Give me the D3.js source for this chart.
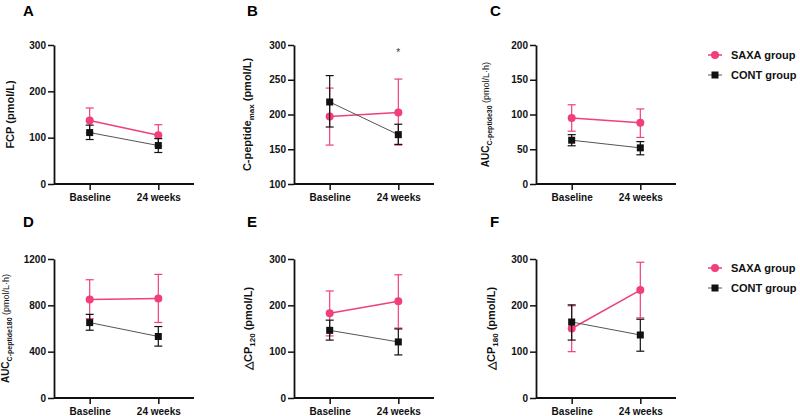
<!DOCTYPE html>
<html>
<head>
<meta charset="utf-8">
<script src="https://cdn.jsdelivr.net/npm/d3@7/dist/d3.min.js"></script>
<style>
  body { margin: 0; background: #fff; }
  svg { font-family: "Liberation Sans", Arial, Helvetica, sans-serif; }
</style>
</head>
<body>
<svg id="chart" width="800" height="416"></svg>
<script>
// Data
const timepoints = ['Baseline', '24 weeks'];
const panelIds = ['A', 'B', 'C', 'D', 'E', 'F'];
const groups = ['SAXA group', 'CONT group'];

const yDomains = [[0, 300], [100, 300], [0, 200], [0, 1200], [0, 300], [0, 300]];
const yTicks = [
  [0, 100, 200, 300],
  [100, 150, 200, 250, 300],
  [0, 50, 100, 150, 200],
  [0, 400, 800, 1200],
  [0, 100, 200, 300],
  [0, 100, 200, 300]
];

const saxaMean = [[137, 105], [197, 203], [95, 88], [850, 858], [183, 209], [150, 233]];
const saxaHigh = [[164, 128], [238, 251], [114, 108], [1021, 1067], [231, 266], [199, 293]];
const saxaLow = [[110, 82], [156, 156], [76, 67], [685, 652], [134, 151], [100, 173]];

const contMean = [[111, 83], [218, 171], [63, 52], [651, 531], [146, 121], [164, 136]];
const contHigh = [[127, 98], [256, 186], [71, 61], [722, 617], [168, 149], [201, 170]];
const contLow = [[96, 68], [182, 157], [55, 42], [585, 448], [125, 93], [125, 101]];

// significance marks: [panel index, timepoint index, y value]
const sigMarks = [[1, 1, 292]];

// axis titles: [main, subscript, rest]
const yTitles = [
  ['FCP (pmol/L)', '', ''],
  ['C-peptide', 'max', ' (pmol/L)'],
  ['AUC', 'C-peptide30', ' (pmol/L\u00b7h)'],
  ['AUC', 'C-peptide180', ' (pmol/L\u00b7h)'],
  ['\u25b3CP', '120', ' (pmol/L)'],
  ['\u25b3CP', '180', ' (pmol/L)']
];

// Layout
const pink = '#f03f7c';
const dark = '#111';
const colX = [54, 294, 536];
const rowY = [45, 259];
const plotW = 140, plotH = 139;
const letterX = [23, 247, 490];
const letterY = [16, 227];
const titleX = [14, 251, 489, 9, 252, 495];
const smallTitle = [false, false, true, true, false, false];

const svg = d3.select('svg#chart');

panelIds.forEach((id, i) => {
  const col = i % 3, row = Math.floor(i / 3);
  const x0 = colX[col], y0 = rowY[row];

  const x = d3.scalePoint().domain(timepoints).range([x0, x0 + plotW]).padding(0.52);
  const y = d3.scaleLinear().domain(yDomains[i]).range([y0 + plotH, y0]);

  const g = svg.append('g');

  // panel letter
  svg.append('text')
    .attr('x', letterX[col]).attr('y', letterY[row])
    .attr('font-size', 15).attr('font-weight', 'bold')
    .text(id);

  // y axis
  const ya = g.append('g')
    .attr('transform', `translate(${x0},0)`)
    .call(d3.axisLeft(y).tickValues(yTicks[i]).tickFormat(d3.format('d'))
      .tickSize(6).tickSizeOuter(0).tickPadding(2));
  // x axis
  const xa = g.append('g')
    .attr('transform', `translate(0,${y0 + plotH})`)
    .call(d3.axisBottom(x).tickSize(6).tickSizeOuter(0).tickPadding(4));
  xa.select('.domain').attr('d', `M${x0},0H${x0 + plotW}`);

  [ya, xa].forEach(a => {
    a.select('.domain').attr('stroke', dark).attr('stroke-width', 1.8);
    a.selectAll('.tick line').attr('stroke', dark).attr('stroke-width', 1.5);
    a.selectAll('.tick text').attr('fill', dark).attr('font-size', 10)
      .attr('font-weight', 'bold').attr('font-family', '"Liberation Sans", Arial, sans-serif');
  });

  // y title
  const t = yTitles[i];
  const small = smallTitle[i];
  const title = svg.append('text')
    .attr('transform', `translate(${titleX[i]},${y0 + plotH / 2}) rotate(-90)`)
    .attr('text-anchor', 'middle')
    .attr('font-weight', 'bold')
    .attr('font-size', small ? 10 : 11)
    .attr('fill', dark);
  title.append('tspan').text(t[0]);
  if (t[1]) {
    title.append('tspan').attr('font-size', small ? 7 : 8).attr('dy', 3).text(t[1]);
    title.append('tspan').attr('dy', -3).attr('font-size', small ? 9 : 11)
      .attr('font-weight', small ? 'normal' : 'bold').text(t[2]);
  }

  // series: SAXA first, CONT on top
  const series = [
    {mean: saxaMean[i], lo: saxaLow[i], hi: saxaHigh[i], color: pink, lineColor: pink, lw: 1.5, shape: 'circle'},
    {mean: contMean[i], lo: contLow[i], hi: contHigh[i], color: dark, lineColor: '#555', lw: 1, shape: 'square'}
  ];

  series.forEach(s => {
    const pts = timepoints.map((tp, k) => ({tp, m: s.mean[k], lo: s.lo[k], hi: s.hi[k]}));
    const sg = g.append('g');

    sg.append('path')
      .attr('d', d3.line().x(d => x(d.tp)).y(d => y(d.m))(pts))
      .attr('fill', 'none').attr('stroke', s.lineColor).attr('stroke-width', s.lw);

    const eb = sg.selectAll('.eb').data(pts).enter().append('g')
      .attr('stroke', s.color).attr('stroke-width', 1.2);
    eb.append('line')
      .attr('x1', d => x(d.tp)).attr('x2', d => x(d.tp))
      .attr('y1', d => y(d.lo)).attr('y2', d => y(d.hi));
    eb.append('line')
      .attr('x1', d => x(d.tp) - 4).attr('x2', d => x(d.tp) + 4)
      .attr('y1', d => y(d.hi)).attr('y2', d => y(d.hi));
    eb.append('line')
      .attr('x1', d => x(d.tp) - 4).attr('x2', d => x(d.tp) + 4)
      .attr('y1', d => y(d.lo)).attr('y2', d => y(d.lo));

    if (s.shape === 'circle') {
      sg.selectAll('.pt').data(pts).enter().append('circle')
        .attr('cx', d => x(d.tp)).attr('cy', d => y(d.m)).attr('r', 4)
        .attr('fill', s.color);
    } else {
      sg.selectAll('.pt').data(pts).enter().append('rect')
        .attr('x', d => x(d.tp) - 3.5).attr('y', d => y(d.m) - 3.5)
        .attr('width', 7).attr('height', 7)
        .attr('fill', s.color);
    }
  });

  sigMarks.filter(m => m[0] === i).forEach(m => {
    svg.append('text')
      .attr('x', x(timepoints[m[1]])).attr('y', y(m[2]) + 5)
      .attr('text-anchor', 'middle').attr('font-size', 10).attr('fill', '#333')
      .text('*');
  });
});

// legends beside panels C and F
const legendY = [[55, 75], [268, 288]];
legendY.forEach(ys => {
  groups.forEach((name, k) => {
    const lg = svg.append('g').attr('transform', `translate(715,${ys[k]})`);
    const c = k === 0 ? pink : dark;
    lg.append('line').attr('x1', -7).attr('x2', 7)
      .attr('stroke', k === 0 ? pink : '#555').attr('stroke-width', k === 0 ? 1.5 : 1);
    if (k === 0) lg.append('circle').attr('r', 4).attr('fill', c);
    else lg.append('rect').attr('x', -3.5).attr('y', -3.5).attr('width', 7).attr('height', 7).attr('fill', c);
    lg.append('text').attr('x', 16).attr('y', 4)
      .attr('font-size', 11).attr('font-weight', 'bold').attr('fill', dark)
      .text(name);
  });
});
</script>
</body>
</html>
